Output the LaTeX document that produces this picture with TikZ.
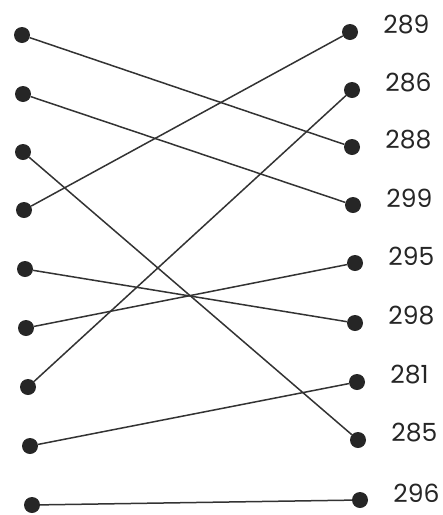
\documentclass[tikz,border=0pt]{standalone}
\usepackage{fontspec}
\setmainfont{Poppins}
\usetikzlibrary{positioning}

\begin{document}
\begin{tikzpicture}[
      x=1pt, y=-1pt,
      dot/.style={circle, fill=black!85, inner sep=0pt, minimum size=16pt},
      num/.style={font=\fontsize{25}{28}\selectfont, text=black!85, inner sep=0pt, yshift=7pt},
      link/.style={line width=1.5pt, draw=black!80}
  ]
  \useasboundingbox (0,0) rectangle (443,515);
  % left column
  \node[dot] (l1) at (22,35)  {};
  \node[dot] (l2) at (23,94)  {};
  \node[dot] (l3) at (23,152) {};
  \node[dot] (l4) at (24,210) {};
  \node[dot] (l5) at (25,269) {};
  \node[dot] (l6) at (26,328) {};
  \node[dot] (l7) at (28,387) {};
  \node[dot] (l8) at (30,446) {};
  \node[dot] (l9) at (32,505) {};
  % right column with values
  \node[dot, label={[num, label distance=25pt]east:289}] (r1) at (350,32)  {};
  \node[dot, label={[num, label distance=25pt]east:286}] (r2) at (352,90)  {};
  \node[dot, label={[num, label distance=25pt]east:288}] (r3) at (352,147) {};
  \node[dot, label={[num, label distance=25pt]east:299}] (r4) at (353,205) {};
  \node[dot, label={[num, label distance=25pt]east:295}] (r5) at (355,263) {};
  \node[dot, label={[num, label distance=25pt]east:298}] (r6) at (355,323) {};
  \node[dot, label={[num, label distance=25pt]east:281}] (r7) at (357,382) {};
  \node[dot, label={[num, label distance=25pt]east:285}] (r8) at (358,440) {};
  \node[dot, label={[num, label distance=25pt]east:296}] (r9) at (360,500) {};
  % connections
  \draw[link] (l1) -- (r3);
  \draw[link] (l2) -- (r4);
  \draw[link] (l3) -- (r8);
  \draw[link] (l4) -- (r1);
  \draw[link] (l5) -- (r6);
  \draw[link] (l6) -- (r5);
  \draw[link] (l7) -- (r2);
  \draw[link] (l8) -- (r7);
  \draw[link] (l9) -- (r9);
\end{tikzpicture}
\end{document}
